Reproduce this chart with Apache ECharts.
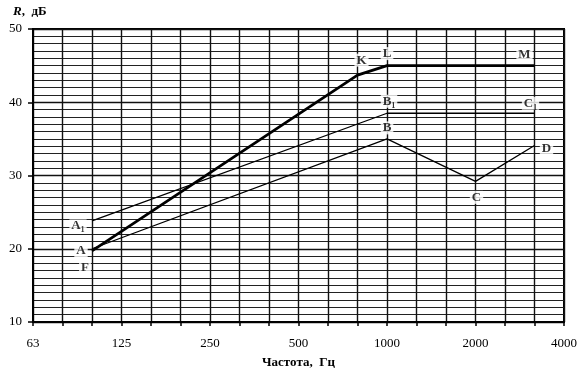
<!DOCTYPE html>
<html>
<head>
<meta charset="utf-8">
<script src="https://cdn.jsdelivr.net/npm/echarts@6/dist/echarts.min.js"></script>
<style>
html,body{margin:0;padding:0;background:#fff;}
#chart{width:580px;height:374px;}
</style>
</head>
<body>
<div id="chart"></div>
<script>
// Third-octave frequency categories (Hz)
const categories = ['63','80','100','125','160','200','250','315','400','500','630','800','1000','1250','1600','2000','2500','3150','4000'];
const yTicks = [10, 20, 30, 40, 50];

// Thick curve F(A)-K-L-M
const thickFreqs = ['100', '800', '1000', '3150'];
const thickValues = [19.7, 43.7, 45, 45];

// Line A1-B1-C1
const a1Freqs = ['100', '1000', '3150'];
const a1Values = [23.8, 38.5, 38.5];

// Line A-B-C-D
const aFreqs = ['100', '1000', '2000', '3150'];
const aValues = [20, 35, 29.2, 34.1];

// Point labels
const labelNames = ['A₁', 'A', 'F', 'K', 'L', 'M', 'B₁', 'C₁', 'B', 'C', 'D'];
const labelFreqs = ['100', '100', '100', '800', '1000', '3150', '1000', '3150', '1000', '2000', '3150'];
const labelValues = [23.8, 20, 19.7, 43.7, 45, 45, 38.5, 38.5, 35, 29.2, 34.1];

// label offsets (style only)
const labelOffsets = {
  'A₁': [-14, 5], 'A': [-11, 2], 'F': [-7, 17], 'K': [4, -15], 'L': [0, -12],
  'M': [-10, -11], 'B₁': [2, -12], 'C₁': [-4, -10], 'B': [0, -11], 'C': [1, 16], 'D': [12, 3]
};

const serif = "'Liberation Serif', 'DejaVu Serif', serif";
const pairs = (xs, ys) => xs.map((x, i) => [x, ys[i]]);

const chart = echarts.init(document.getElementById('chart'), null, {renderer: 'canvas'});
chart.setOption({
  animation: false,
  backgroundColor: '#fff',
  grid: {left: 33, right: 14, top: 29, bottom: 51, show: true, borderColor: '#000', borderWidth: 2, backgroundColor: 'transparent'},
  xAxis: {
    type: 'category',
    data: categories,
    boundaryGap: false,
    name: 'Частота,  Гц',
    nameLocation: 'middle',
    nameGap: 34,
    nameTextStyle: {fontFamily: serif, fontSize: 13, fontWeight: 'bold', color: '#000'},
    axisLine: {lineStyle: {color: '#000', width: 2}},
    axisTick: {show: true, interval: 0, length: 4, lineStyle: {color: '#000', width: 1.5}},
    axisLabel: {interval: 2, margin: 15, fontFamily: serif, fontSize: 13, color: '#000'},
    splitLine: {show: true, interval: 0, lineStyle: {color: '#111', width: 1.4}}
  },
  yAxis: {
    type: 'value',
    min: yTicks[0], max: yTicks[yTicks.length - 1], interval: 10,
    axisLine: {show: true, lineStyle: {color: '#000', width: 2}},
    axisTick: {show: true, length: 5, lineStyle: {color: '#000', width: 1.5}},
    axisLabel: {margin: 11, fontFamily: serif, fontSize: 13, color: '#000'},
    splitLine: {show: true, lineStyle: {color: '#111', width: 1.4}},
    minorTick: {show: false, splitNumber: 10},
    minorSplitLine: {show: true, lineStyle: {color: '#222', width: 1.2}}
  },
  graphic: [{
    type: 'text', left: 13, top: 5,
    style: {
      text: '{r|R},  {u|дБ}',
      font: "bold 13px " + serif,
      fill: '#000',
      rich: {
        r: {fontFamily: serif, fontStyle: 'italic', fontWeight: 'bold', fontSize: 13, fill: '#000'},
        u: {fontFamily: serif, fontWeight: 'bold', fontSize: 13, fill: '#000'}
      }
    }
  }],
  series: [
    {type: 'line', data: pairs(aFreqs, aValues), symbol: 'none', lineStyle: {color: '#000', width: 1.3}, z: 3},
    {type: 'line', data: pairs(a1Freqs, a1Values), symbol: 'none', lineStyle: {color: '#000', width: 1.3}, z: 3},
    {type: 'line', data: pairs(thickFreqs, thickValues), symbol: 'none', lineStyle: {color: '#000', width: 2.8}, z: 4},
    {
      type: 'scatter', symbolSize: 0, z: 5,
      data: labelNames.map((n, i) => ({
        name: n, value: [labelFreqs[i], labelValues[i]],
        label: {offset: labelOffsets[n]}
      })),
      label: {
        show: true, position: 'inside', formatter: p => p.name,
        fontFamily: serif, fontSize: 13, fontWeight: 'bold', color: '#000',
        backgroundColor: '#fff', padding: [0, 2, 0, 2]
      }
    }
  ]
});
</script>
</body>
</html>
